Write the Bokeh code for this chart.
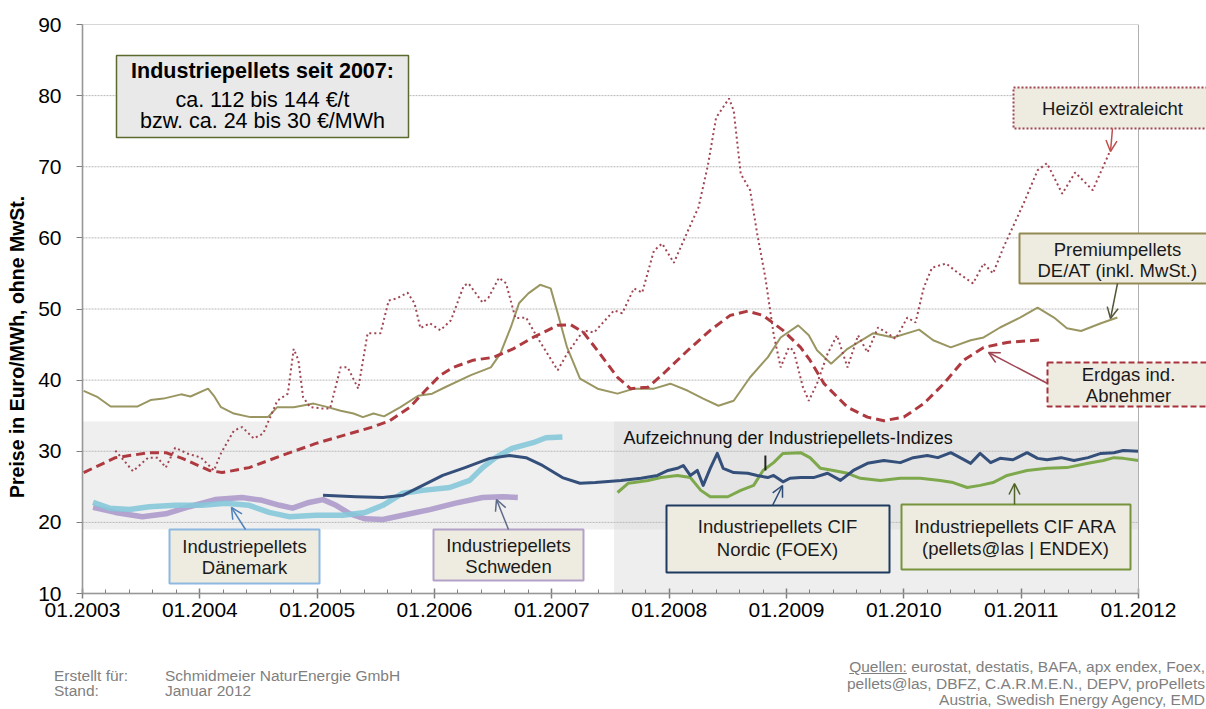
import numpy as np
from bokeh.plotting import figure
from bokeh.layouts import column
from bokeh.models import Range1d, FixedTicker, BoxAnnotation, Label, Arrow, OpenHead, Div
from bokeh.embed import file_html
from bokeh.resources import INLINE

# ---------------- data ----------------
years = [2003, 2004, 2005, 2006, 2007, 2008, 2009, 2010, 2011, 2012]
year_labels = ["01.2003", "01.2004", "01.2005", "01.2006", "01.2007",
               "01.2008", "01.2009", "01.2010", "01.2011", "01.2012"]
y_ticks = [10, 20, 30, 40, 50, 60, 70, 80, 90]

heizoel_t = [2003.28, 2003.43, 2003.56, 2003.64, 2003.71, 2003.79, 2003.89, 2004.01, 2004.12, 2004.18,
             2004.29, 2004.36, 2004.46, 2004.54, 2004.66, 2004.75, 2004.80, 2004.84, 2004.88, 2004.94,
             2005.05, 2005.11, 2005.20, 2005.26, 2005.35, 2005.43, 2005.54, 2005.61, 2005.68, 2005.77,
             2005.83, 2005.88, 2005.96, 2006.05, 2006.14, 2006.25, 2006.29, 2006.41, 2006.46, 2006.55,
             2006.61, 2006.69, 2006.78, 2006.88, 2007.05, 2007.13, 2007.27, 2007.36, 2007.53, 2007.60,
             2007.70, 2007.77, 2007.87, 2007.94, 2008.04, 2008.16, 2008.25, 2008.33, 2008.40, 2008.51,
             2008.55, 2008.61, 2008.69, 2008.75, 2008.82, 2008.89, 2008.95, 2009.02, 2009.06, 2009.14,
             2009.19, 2009.26, 2009.35, 2009.43, 2009.52, 2009.61, 2009.69, 2009.78, 2009.86, 2009.93,
             2010.03, 2010.10, 2010.17, 2010.24, 2010.36, 2010.46, 2010.59, 2010.68, 2010.76, 2010.85,
             2011.02, 2011.14, 2011.22, 2011.35, 2011.46, 2011.61, 2011.76]
heizoel_v = [30.1, 27.2, 29.1, 29.1, 27.7, 30.5, 29.7, 29.1, 27.3, 29.7,
             32.9, 33.4, 31.8, 32.5, 37.1, 38.1, 44.4, 42.8, 37.6, 36.2,
             36.0, 36.0, 41.8, 41.8, 38.8, 46.6, 46.6, 51.2, 51.5, 52.3,
             50.8, 47.3, 48.0, 47.0, 48.4, 53.3, 53.6, 50.9, 51.6, 54.4,
             53.6, 48.7, 48.8, 45.9, 41.4, 43.7, 47.0, 46.7, 49.8, 49.4,
             52.9, 52.3, 58.2, 59.2, 56.5, 61.0, 64.3, 70.2, 76.9, 79.6,
             77.9, 69.0, 66.7, 60.6, 54.4, 46.5, 41.8, 44.6, 44.2, 39.0,
             37.1, 39.5, 43.7, 46.3, 41.8, 46.3, 43.9, 47.4, 46.6, 45.8,
             48.8, 48.1, 53.0, 55.8, 56.4, 55.1, 53.6, 56.4, 55.0, 58.7,
             64.8, 69.5, 70.5, 66.2, 69.2, 66.7, 72.3]

premium_t = [2003.01, 2003.13, 2003.24, 2003.35, 2003.47, 2003.58, 2003.69, 2003.84, 2003.92, 2004.07,
             2004.12, 2004.18, 2004.29, 2004.43, 2004.58, 2004.66, 2004.80, 2004.97, 2005.09, 2005.20,
             2005.31, 2005.39, 2005.48, 2005.57, 2005.71, 2005.86, 2005.98, 2006.09, 2006.31, 2006.48,
             2006.56, 2006.65, 2006.72, 2006.80, 2006.90, 2006.99, 2007.05, 2007.13, 2007.24, 2007.39,
             2007.56, 2007.70, 2007.87, 2008.01, 2008.16, 2008.29, 2008.42, 2008.55, 2008.69, 2008.84,
             2008.95, 2009.10, 2009.19, 2009.26, 2009.38, 2009.52, 2009.74, 2009.91, 2010.13, 2010.25,
             2010.40, 2010.57, 2010.68, 2010.82, 2010.99, 2011.14, 2011.28, 2011.39, 2011.51, 2011.68,
             2011.82]
premium_v = [38.5, 37.6, 36.3, 36.3, 36.3, 37.2, 37.4, 38.0, 37.7, 38.8,
             37.8, 36.2, 35.3, 34.8, 34.8, 36.2, 36.2, 36.7, 36.2, 35.7,
             35.3, 34.8, 35.3, 34.9, 36.2, 37.8, 38.1, 39.0, 40.7, 41.8,
             43.7, 47.4, 50.8, 52.2, 53.4, 52.9, 49.4, 44.6, 40.2, 38.8,
             38.1, 38.8, 38.8, 39.5, 38.5, 37.4, 36.4, 37.1, 40.4, 43.2,
             46.0, 47.7, 46.3, 44.2, 42.3, 44.4, 46.6, 46.0, 47.1, 45.6,
             44.6, 45.6, 46.0, 47.4, 48.8, 50.2, 48.8, 47.3, 46.9, 48.0,
             48.8]

erdgas_t = [2003.01, 2003.28, 2003.57, 2003.71, 2003.85, 2004.08, 2004.19, 2004.42, 2004.70, 2004.99,
            2005.28, 2005.47, 2005.62, 2005.79, 2005.92, 2006.05, 2006.16, 2006.33, 2006.50, 2006.67,
            2006.84, 2007.05, 2007.16, 2007.27, 2007.41, 2007.56, 2007.67, 2007.82, 2007.95, 2008.16,
            2008.35, 2008.52, 2008.67, 2008.80, 2008.97, 2009.12, 2009.20, 2009.32, 2009.52, 2009.69,
            2009.83, 2010.00, 2010.17, 2010.34, 2010.51, 2010.68, 2010.88, 2011.19]
erdgas_v = [27.0, 29.1, 29.8, 29.8, 29.0, 27.3, 27.0, 27.7, 29.4, 31.1,
            32.5, 33.4, 34.3, 36.2, 38.5, 40.7, 41.8, 42.8, 43.2, 44.4,
            46.0, 47.7, 47.8, 46.7, 43.7, 40.4, 38.8, 39.0, 40.9, 44.2,
            47.0, 49.1, 49.7, 49.1, 47.0, 44.6, 42.8, 39.5, 36.2, 34.8,
            34.3, 34.8, 36.7, 39.5, 42.8, 44.6, 45.3, 45.7]

daenemark_t = [2003.09, 2003.23, 2003.40, 2003.57, 2003.79, 2004.02, 2004.22, 2004.42, 2004.59, 2004.76,
               2004.99, 2005.22, 2005.41, 2005.56, 2005.73, 2005.90, 2006.13, 2006.30, 2006.41, 2006.52,
               2006.66, 2006.84, 2006.95, 2007.09]
daenemark_v = [22.8, 22.0, 21.8, 22.2, 22.4, 22.4, 22.7, 22.4, 21.4, 20.8,
               21.0, 21.0, 21.4, 22.4, 24.1, 24.5, 24.9, 25.9, 27.7, 29.1,
               30.4, 31.2, 31.9, 32.0]

schweden_t = [2003.09, 2003.28, 2003.51, 2003.71, 2003.91, 2004.13, 2004.36, 2004.53, 2004.68, 2004.79,
              2004.93, 2005.05, 2005.16, 2005.28, 2005.41, 2005.56, 2005.73, 2005.96, 2006.18, 2006.41,
              2006.58, 2006.71]
schweden_v = [22.1, 21.4, 20.8, 21.2, 22.2, 23.2, 23.5, 23.1, 22.4, 22.0,
              22.8, 23.2, 22.4, 21.2, 20.5, 20.4, 21.0, 21.8, 22.7, 23.5,
              23.6, 23.5]

nordic_t = [2005.05, 2005.33, 2005.56, 2005.73, 2005.90, 2006.07, 2006.26, 2006.47, 2006.64, 2006.78,
            2006.92, 2007.09, 2007.24, 2007.37, 2007.59, 2007.76, 2007.90, 2007.99, 2008.07, 2008.12,
            2008.18, 2008.24, 2008.29, 2008.35, 2008.41, 2008.46, 2008.55, 2008.67, 2008.75, 2008.84,
            2008.89, 2008.97, 2009.03, 2009.12, 2009.23, 2009.35, 2009.46, 2009.57, 2009.69, 2009.83,
            2009.97, 2010.08, 2010.20, 2010.29, 2010.40, 2010.48, 2010.57, 2010.65, 2010.74, 2010.82,
            2010.93, 2011.05, 2011.14, 2011.22, 2011.34, 2011.45, 2011.57, 2011.68, 2011.79, 2011.87,
            2012.00]
nordic_v = [23.8, 23.6, 23.5, 23.8, 25.2, 26.6, 27.7, 29.0, 29.4, 29.1,
            28.0, 26.3, 25.5, 25.6, 25.9, 26.2, 26.6, 27.3, 27.6, 28.0,
            26.6, 27.3, 25.2, 27.6, 29.7, 27.6, 27.0, 26.9, 26.6, 26.3,
            26.6, 25.7, 26.2, 26.3, 26.3, 26.9, 25.9, 27.3, 28.3, 28.7,
            28.4, 29.1, 29.4, 29.1, 29.8, 29.1, 28.3, 29.7, 28.4, 29.0,
            28.8, 29.8, 29.0, 28.8, 29.1, 28.7, 29.1, 29.7, 29.8, 30.1,
            30.0]

ara_t = [2007.56, 2007.65, 2007.70, 2007.82, 2007.93, 2008.07, 2008.18, 2008.27, 2008.35, 2008.50,
         2008.61, 2008.72, 2008.80, 2008.89, 2008.97, 2009.12, 2009.20, 2009.29, 2009.40, 2009.52,
         2009.63, 2009.80, 2009.97, 2010.14, 2010.31, 2010.42, 2010.54, 2010.65, 2010.76, 2010.88,
         2011.05, 2011.22, 2011.39, 2011.57, 2011.70, 2011.79, 2011.87, 2012.00]
ara_v = [24.2, 25.5, 25.6, 25.9, 26.3, 26.6, 26.3, 24.5, 23.6, 23.6,
         24.5, 25.2, 27.3, 28.4, 29.7, 29.8, 29.1, 27.6, 27.3, 26.9,
         26.2, 25.9, 26.2, 26.2, 25.9, 25.6, 24.9, 25.2, 25.6, 26.6,
         27.3, 27.6, 27.7, 28.3, 28.7, 29.1, 29.0, 28.7]

band_low, band_high = 19.0, 34.2          # highlighted price band
index_start = 2007.53                     # start of index recording
marker_t, marker_lo, marker_hi = 2008.82, 27.3, 29.4

footer_left = [("Erstellt für:", "Schmidmeier NaturEnergie GmbH"), ("Stand:", "Januar 2012")]
footer_sources = ["eurostat, destatis, BAFA, apx endex, Foex,",
                  "pellets@las, DBFZ, C.A.R.M.E.N., DEPV, proPellets",
                  "Austria, Swedish Energy Agency, EMD"]

# ---------------- layout helpers (reference pixels -> data) ----------------
W = 1206
H_MAIN, H_FOOT = 640, 69
LEFT = 82
YEAR_PX = (1138 - 82) / 9.0
VAL_PX = (593 - 24) / 80.0


def X(px):
    return 2003 + (px - 82) / YEAR_PX


def Y(py):
    return 10 + (593 - py) / VAL_PX


FONT = "Liberation Sans"
NBSP = "\u00a0"

p = figure(width=W, height=H_MAIN, x_range=Range1d(2003, X(W)), y_range=Range1d(10, 90),
           output_backend="svg", toolbar_location=None,
           min_border_left=LEFT, min_border_right=0, min_border_top=24, min_border_bottom=H_MAIN - 593)
p.background_fill_color = "#FFFFFF"
p.border_fill_color = "#FFFFFF"
p.outline_line_color = None
p.xgrid.visible = False
p.ygrid.visible = False

# bands
p.quad(left=[2003], right=[2012], bottom=[band_low], top=[band_high],
       fill_color="#EFEFEF", line_color=None)
p.quad(left=[index_start], right=[2012], bottom=[10], top=[band_high],
       fill_color="#D9D9D9", fill_alpha=0.45, line_color=None)

# grid lines
grid_vals = y_ticks[1:-1]
p.segment(x0=[2003] * len(grid_vals), x1=[2012] * len(grid_vals), y0=grid_vals, y1=grid_vals,
          line_color="#B8B8B8", line_width=1, line_dash="2 1")

# frame outline
p.add_layout(BoxAnnotation(left=2003, right=2012, bottom=10, top=90, fill_alpha=0,
                           line_color="#B0B0B0", line_alpha=1, line_width=1))

# axes
xa = p.xaxis[0]
xa.ticker = FixedTicker(ticks=years, minor_ticks=list(np.round(np.arange(2003, 2012.01, 0.2), 2)))
xa.major_label_overrides = {y: l for y, l in zip(years, year_labels)}
xa.bounds = (2003, 2012)
xa.axis_line_color = "#808080"
xa.axis_line_width = 1.5
xa.major_tick_line_color = "#808080"
xa.major_tick_line_width = 1.5
xa.major_tick_in = 5
xa.major_tick_out = 5
xa.minor_tick_line_color = "#808080"
xa.minor_tick_in = 4
xa.minor_tick_out = 0
xa.major_label_standoff = 4
xa.major_label_text_font = FONT
xa.major_label_text_font_size = "21px"
xa.major_label_text_color = "#000000"

ya = p.yaxis[0]
ya.ticker = FixedTicker(ticks=y_ticks)
ya.bounds = (10, 90)
ya.axis_line_color = "#808080"
ya.axis_line_width = 1.5
ya.major_tick_line_color = "#808080"
ya.major_tick_in = 0
ya.major_tick_out = 6
ya.minor_tick_line_color = None
ya.major_label_standoff = 15
ya.major_label_text_font = FONT
ya.major_label_text_font_size = "21px"
ya.major_label_text_color = "#000000"
ya.axis_label = "Preise in Euro/MWh, ohne MwSt." + NBSP * 14
ya.axis_label_text_font = FONT
ya.axis_label_text_font_size = "19.5px"
ya.axis_label_text_font_style = "bold"
ya.axis_label_text_color = "#000000"
ya.axis_label_standoff = 7

# series
p.line(schweden_t, schweden_v, line_color="#A895C8", line_width=5.5, line_alpha=0.85, line_join="round")
p.line(daenemark_t, daenemark_v, line_color="#86C8DA", line_width=5.5, line_alpha=0.9, line_join="round")
p.line(ara_t, ara_v, line_color="#7EA84C", line_width=3, line_join="round")
p.line(nordic_t, nordic_v, line_color="#34507A", line_width=3, line_join="round")
p.segment(x0=[marker_t], x1=[marker_t], y0=[marker_lo], y1=[marker_hi], line_color="#222222", line_width=2)
p.line(premium_t, premium_v, line_color="#9A9662", line_width=2)
p.line(erdgas_t, erdgas_v, line_color="#AE3A40", line_width=3, line_dash="9 5")
p.line(heizoel_t, heizoel_v, line_color="#A04552", line_width=2, line_dash="2 3")


def box(l, r, t, b, fill, line, width=2, dash="solid"):
    p.add_layout(BoxAnnotation(left=X(l), right=X(r), top=Y(t), bottom=Y(b),
                               fill_color=fill, fill_alpha=1, line_color=line, line_alpha=1,
                               line_width=width, line_dash=dash))


def plabel(px, py, text, size="18.5px", align="center", bold=False, color="#1A1A1A"):
    p.add_layout(Label(x=X(px), y=Y(py), text=text, text_align=align, text_baseline="middle",
                       text_font=FONT, text_font_size=size, text_color=color,
                       text_font_style="bold" if bold else "normal"))


def arrow(x0, y0, x1, y1, color, width=1.5):
    p.add_layout(Arrow(x_start=X(x0), y_start=Y(y0), x_end=X(x1), y_end=Y(y1),
                       line_color=color, line_width=width,
                       end=OpenHead(size=11, line_color=color, line_width=width)))


BEIGE = "#EEECE1"

# info box
box(116, 408, 55, 137, "#E9E9E9", "#5B6B2F", 1.5)
plabel(262, 70, "Industriepellets seit 2007:", size="21.5px", bold=True, color="#000000")
plabel(262, 99, "ca. 112 bis 144 €/t", size="21.5px", color="#000000")
plabel(262, 120, "bzw. ca. 24 bis 30 €/MWh", size="21.5px", color="#000000")

# Heizöl
box(1013, 1212, 87, 128, BEIGE, "#A04552", 2, "2 2")
plabel(1112, 108, "Heizöl extraleicht")
arrow(1112, 128, 1110, 151, "#C0504D")

# Premium
box(1019, 1212, 233, 283, BEIGE, "#938953", 2)
plabel(1117, 249, "Premiumpellets")
plabel(1117, 270, "DE/AT (inkl. MwSt.)")
arrow(1117, 283, 1110, 318, "#55553A")

# Erdgas
box(1047, 1212, 362, 406, BEIGE, "#A8323C", 2, "6 3")
plabel(1128, 374, "Erdgas ind.")
plabel(1128, 395, "Abnehmer")
arrow(1047, 383, 988, 352, "#A04552")

# Dänemark
box(169, 319, 529, 583, BEIGE, "#8DB8E0", 2)
plabel(244, 546, "Industriepellets")
plabel(244, 567, "Dänemark")
arrow(245, 529, 231, 507, "#4F81BD")

# Schweden
box(433, 583, 529, 580, BEIGE, "#B3A2C7", 2)
plabel(508, 545, "Industriepellets")
plabel(508, 566, "Schweden")
arrow(508, 529, 496, 499, "#5F6B8A")

# Nordic
box(666, 889, 505, 572, BEIGE, "#1F3A60", 2)
plabel(777, 526, "Industriepellets CIF")
plabel(777, 549, "Nordic (FOEX)")
arrow(772, 505, 782, 485, "#2E4A75")

# ARA
box(901, 1130, 504, 569, BEIGE, "#77933C", 2)
plabel(1015, 526, "Industriepellets CIF ARA")
plabel(1015, 548, "(pellets@las | ENDEX)")
arrow(1014, 504, 1014, 483, "#4F6228")

plabel(623, 437, "Aufzeichnung der Industriepellets-Indizes", size="18px", align="left", color="#111111")

# ---------------- footer ----------------
span = "position:absolute;white-space:nowrap;"
html = ['<div style="position:relative;width:%dpx;height:%dpx;font-family:\'Liberation Sans\',Arial,sans-serif;'
        'font-size:15.5px;line-height:16px;color:#7F7F7F;">' % (W, H_FOOT)]
for i, (k, v) in enumerate(footer_left):
    top = 28 + 15 * i
    html.append('<span style="%sleft:54px;top:%dpx;">%s</span>' % (span, top, k))
    html.append('<span style="%sleft:165px;top:%dpx;">%s</span>' % (span, top, v))
for i, s in enumerate(footer_sources):
    top = 19 + 16.5 * i
    prefix = "<u>Quellen:</u> " if i == 0 else ""
    html.append('<span style="%sright:1px;top:%.1fpx;">%s%s</span>' % (span, top, prefix, s))
html.append("</div>")
footer = Div(text="".join(html), width=W, height=H_FOOT, margin=(0, 0, 0, 0))

layout = column(p, footer, spacing=0)
open("out.html", "w").write(file_html(layout, INLINE))
